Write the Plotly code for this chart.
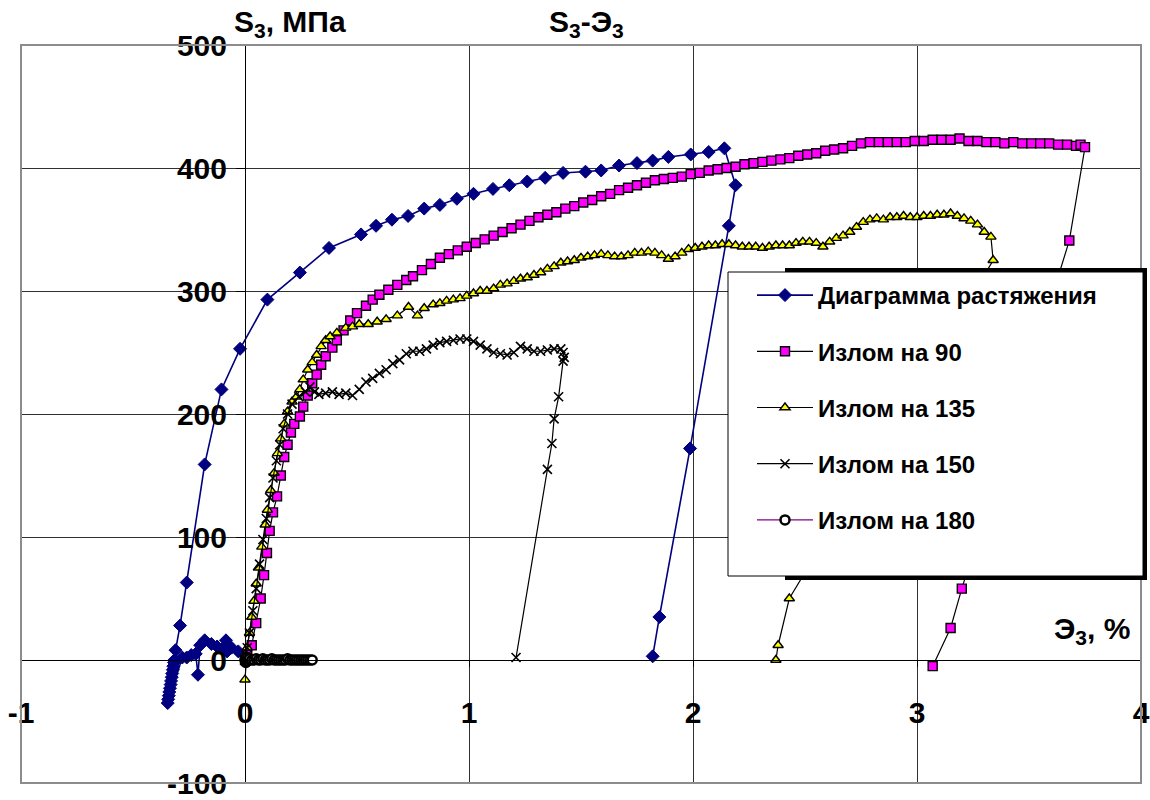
import plotly.graph_objects as go

# ---------------- data ----------------
# Диаграмма растяжения
tens_x = [-0.03, -0.06, -0.085, -0.08, -0.1, -0.125, -0.15, -0.18, -0.2, -0.21, -0.22, -0.24, -0.26, -0.28,
          -0.345, -0.343, -0.34, -0.338, -0.335, -0.332, -0.33, -0.327, -0.325, -0.322, -0.32, -0.317, -0.315,
          -0.31, -0.29, -0.26, -0.18, -0.105, -0.022, 0.1, 0.245, 0.375, 0.518, 0.585, 0.656, 0.728, 0.8, 0.87,
          0.946, 1.02, 1.107, 1.18, 1.26, 1.34, 1.42, 1.52, 1.59, 1.67, 1.75, 1.82, 1.89, 1.99, 2.07, 2.14,
          2.19, 2.16, 1.987, 1.85, 1.82]
tens_y = [7, 10, 16, 7, 9, 11, 13, 16, 12, -12, 5, 4, 2, 2,
          -35, -32, -29, -26, -23, -20, -17, -14, -11, -8, -5, -2, 0,
          8, 28, 63, 159, 220, 253, 293, 315, 335, 346, 353, 358, 361, 367, 370,
          375, 379, 383, 386, 389, 392, 396, 397, 398, 402, 404, 406, 409, 411, 413, 416,
          386, 353, 172, 35, 3]

# Излом на 90
k90_x = [0, 0.01, 0.03, 0.05, 0.07, 0.085, 0.098, 0.11, 0.125, 0.143, 0.16, 0.175, 0.19, 0.205, 0.22, 0.245,
         0.26, 0.28, 0.3, 0.32, 0.34, 0.36, 0.39, 0.41, 0.44, 0.47, 0.5, 0.54, 0.57, 0.6, 0.64, 0.68, 0.72,
         0.75, 0.79, 0.83, 0.87, 0.91, 0.95, 0.99, 1.03, 1.07, 1.11, 1.15, 1.19, 1.23, 1.27, 1.31, 1.35, 1.39,
         1.43, 1.47, 1.51, 1.55, 1.59, 1.63, 1.67, 1.71, 1.75, 1.79, 1.83, 1.87, 1.91, 1.95, 1.99, 2.03, 2.07,
         2.11, 2.15, 2.19, 2.23, 2.27, 2.31, 2.35, 2.39, 2.43, 2.47, 2.51, 2.55, 2.59, 2.63, 2.67, 2.71, 2.75,
         2.79, 2.83, 2.87, 2.91, 2.95, 2.99, 3.03, 3.07, 3.11, 3.15, 3.19, 3.23, 3.27, 3.31, 3.35, 3.39, 3.43,
         3.47, 3.51, 3.55, 3.59, 3.63, 3.67, 3.71, 3.73, 3.75, 3.68, 3.2, 3.15, 3.07]
k90_y = [0, 5, 12, 30, 50, 69, 87, 105, 120, 133, 150, 165, 175, 185, 192, 198,
         206, 215, 225, 232, 240, 247, 254, 260, 268, 276, 282, 288, 293, 297, 301, 305, 309,
         312, 317, 322, 327, 330, 333, 336, 339, 342, 345, 348, 351, 354, 357, 360, 362, 364,
         367, 369, 372, 374, 377, 379, 382, 384, 386, 388, 390, 391, 392, 393, 395, 396, 398,
         399, 400, 401, 403, 404, 405, 406, 407, 408, 410, 411, 412, 414, 415, 416, 418, 420,
         421, 421, 421, 421, 421, 422, 422, 423, 423, 423, 424, 422, 422, 421, 421, 420, 421,
         420, 420, 420, 420, 419, 419, 418, 419, 417, 341, 58, 26, -5]

# Излом на 135
k135_x = [0, 0.005, 0.01, 0.02, 0.03, 0.04, 0.05, 0.06, 0.075, 0.09, 0.1, 0.115, 0.13, 0.145, 0.16, 0.175,
          0.19, 0.21, 0.23, 0.245, 0.26, 0.28, 0.3, 0.32, 0.34, 0.36, 0.38, 0.41, 0.45, 0.48, 0.51, 0.55,
          0.59, 0.63, 0.68, 0.73, 0.77, 0.8, 0.84, 0.87, 0.9, 0.93, 0.96, 0.99, 1.02, 1.05, 1.08, 1.11,
          1.14, 1.17, 1.2, 1.23, 1.26, 1.29, 1.32, 1.35, 1.38, 1.41, 1.44, 1.47, 1.5, 1.53, 1.56, 1.59,
          1.62, 1.65, 1.68, 1.71, 1.74, 1.77, 1.8, 1.83, 1.86, 1.89, 1.92, 1.95, 1.98, 2.01, 2.04, 2.07,
          2.1, 2.13, 2.16, 2.19, 2.22, 2.25, 2.28, 2.31, 2.34, 2.37, 2.4, 2.43, 2.46, 2.49, 2.52, 2.55,
          2.58, 2.61, 2.64, 2.67, 2.7, 2.73, 2.76, 2.79, 2.82, 2.85, 2.88, 2.91, 2.94, 2.97, 3.0, 3.03,
          3.06, 3.09, 3.12, 3.15, 3.18, 3.21, 3.24, 3.27, 3.3, 3.33, 3.34, 2.43, 2.38, 2.37]
k135_y = [-16, 0, 10, 22, 35, 48, 62, 75, 92, 110, 122, 138, 152, 168, 180, 192,
          202, 210, 214, 220, 228, 236, 242, 248, 255, 260, 263, 266, 270, 271, 273, 273,
          275, 277, 280, 287, 280, 286, 289, 290, 292, 293, 294, 296, 298, 300, 300, 302,
          305, 306, 308, 310, 311, 313, 315, 318, 320, 323, 324, 325, 327, 328, 329, 330,
          329, 328, 328, 329, 331, 331, 332, 331, 329, 326, 328, 331, 334, 335, 336, 337,
          337, 338, 338, 337, 336, 336, 336, 335, 336, 337, 337, 337, 339, 340, 340, 339,
          336, 340, 343, 345, 348, 352, 356, 358, 359, 358, 360, 360, 361, 360, 360, 361,
          361, 362, 362, 363, 361, 359, 357, 354, 348, 344, 325, 50, 12, 0]

# Излом на 150
k150_x = [0, 0.01, 0.02, 0.035, 0.05, 0.065, 0.08, 0.095, 0.11, 0.125, 0.14, 0.155, 0.17, 0.19, 0.21,
          0.24, 0.27, 0.29, 0.31, 0.33, 0.36, 0.39, 0.42, 0.45, 0.48, 0.51, 0.54, 0.57, 0.6, 0.63, 0.66,
          0.69, 0.72, 0.75, 0.78, 0.81, 0.84, 0.87, 0.9, 0.93, 0.96, 0.99, 1.02, 1.05, 1.08, 1.11, 1.14,
          1.17, 1.2, 1.23, 1.26, 1.29, 1.32, 1.35, 1.38, 1.41, 1.42, 1.425, 1.42, 1.4, 1.38, 1.37, 1.35, 1.21]
k150_y = [0, 10, 22, 40, 58, 78, 98, 115, 132, 148, 162, 175, 188, 200, 208,
          214, 218, 222, 218, 216, 217, 218, 216, 217, 215, 220, 226, 229, 233, 236, 241,
          244, 249, 251, 251, 253, 256, 258, 259, 260, 261, 261, 259, 256, 253, 250, 249,
          248, 250, 255, 253, 251, 251, 252, 253, 253, 250, 246, 243, 214, 196, 176, 155, 2]

# Излом на 180
k180_x = [0, 0.002, 0.004, 0.006, 0.008, 0.01, 0.012, 0.015, 0.02, 0.03, 0.04, 0.05, 0.06, 0.07, 0.08,
          0.09, 0.1, 0.11, 0.12, 0.13, 0.14, 0.15, 0.16, 0.17, 0.18, 0.19, 0.2, 0.21, 0.22, 0.23, 0.24,
          0.25, 0.26, 0.27, 0.28, 0.29, 0.3]
k180_y = [0, 2, -2, 1, -1, 0, 2, 0, 1, 0, 0, 1, 0, 0, 1,
          0, 0, 0, 1, 0, 0, 0, 0, 0, 0, 1, 0, 0, 0, 0, 0,
          0, 0, 0, 0, 0, 0]

series_names = ["Диаграмма растяжения", "Излом на 90", "Излом на 135", "Излом на 150", "Излом на 180"]

x_ticks = [-1, 0, 1, 2, 3, 4]
x_labels = ["-1", "0", "1", "2", "3", "4"]
y_ticks = [-100, 0, 100, 200, 300, 400, 500]
y_labels = ["-100", "0", "100", "200", "300", "400", "500"]

# ---------------- figure ----------------
FONT = "Liberation Sans, Arial, sans-serif"
W, H = 1150, 800
ML, MR, MT, MB = 21, 9, 45, 17
PW, PH = W - ML - MR, H - MT - MB


def px_x(p):
    return (p - ML) / PW


def px_y(p):
    return (H - MB - p) / PH


fig = go.Figure()

fig.add_trace(go.Scatter(
    x=tens_x, y=tens_y, name=series_names[0], mode="lines+markers", legendgroup="a",
    line=dict(color="#000080", width=1.6),
    marker=dict(symbol="diamond", size=10, color="#000080", line=dict(color="#000080", width=1))))
fig.add_trace(go.Scatter(
    x=k90_x, y=k90_y, name=series_names[1], mode="lines+markers", legendgroup="b",
    line=dict(color="black", width=1.2),
    marker=dict(symbol="square", size=9, color="#FF00FF", line=dict(color="black", width=1.4))))
fig.add_trace(go.Scatter(
    x=k135_x, y=k135_y, name=series_names[2], mode="lines+markers", legendgroup="c",
    line=dict(color="black", width=1.2),
    marker=dict(symbol="triangle-up", size=9, color="#FFFF00", line=dict(color="black", width=1.4))))
fig.add_trace(go.Scatter(
    x=k150_x, y=k150_y, name=series_names[3], mode="lines+markers", legendgroup="d",
    line=dict(color="black", width=1.2),
    marker=dict(symbol="x-thin", size=9, color="black", line=dict(color="black", width=1.6))))
fig.add_trace(go.Scatter(
    x=k180_x, y=k180_y, name=series_names[4], mode="lines+markers", legendgroup="e",
    line=dict(color="#800080", width=1.2),
    marker=dict(symbol="circle", size=9, color="white", line=dict(color="black", width=2.5))))

axis_font = dict(family=FONT, size=30, color="black", weight="bold")

fig.update_layout(
    width=W, height=H,
    margin=dict(l=ML, r=MR, t=MT, b=MB, pad=0, autoexpand=False),
    paper_bgcolor="white", plot_bgcolor="white",
    showlegend=True,
    legend=dict(
        x=px_x(752), y=px_y(273), xanchor="left", yanchor="top",
        bgcolor="rgba(0,0,0,0)", borderwidth=0,
        font=dict(family=FONT, size=24, color="black", weight="bold"),
        tracegroupgap=22, itemwidth=56,
    ),
    xaxis=dict(
        range=[-1, 4], tickmode="array", tickvals=x_ticks, ticktext=x_labels,
        showgrid=True, gridcolor="#303030", gridwidth=1,
        zeroline=False, showline=True, linecolor="black", linewidth=1,
        anchor="free", position=px_y(660), automargin=False,
        ticks="outside", ticklen=6, tickcolor="black", tickfont=axis_font,
        ticklabelstandoff=20,
    ),
    yaxis=dict(
        range=[-100, 500], tickmode="array", tickvals=y_ticks, ticktext=y_labels,
        showgrid=True, gridcolor="#303030", gridwidth=1,
        zeroline=False, showline=True, linecolor="black", linewidth=1,
        anchor="free", position=px_x(245), automargin=False,
        ticks="outside", ticklen=9, tickcolor="black", tickfont=axis_font,
        ticklabelstandoff=3,
    ),
)

shapes = [
    # plot area border
    dict(type="rect", xref="paper", yref="paper", x0=0, y0=0, x1=1, y1=1,
         line=dict(color="#8c8c8c", width=2), fillcolor="rgba(0,0,0,0)", layer="above"),
    # legend shadow
    dict(type="rect", xref="paper", yref="paper", x0=px_x(785), y0=px_y(580), x1=px_x(1147), y1=px_y(268),
         line=dict(width=0), fillcolor="black", layer="above"),
    # legend box
    dict(type="rect", xref="paper", yref="paper", x0=px_x(728), y0=px_y(576), x1=px_x(1143), y1=px_y(272),
         line=dict(color="black", width=1), fillcolor="white", layer="above"),
]
fig.update_layout(shapes=shapes)

ann_font = dict(family=FONT, size=30, color="black", weight="bold")
fig.add_annotation(text="S<sub>3</sub>, МПа", xref="paper", yref="paper", x=px_x(232), y=px_y(24),
                   xanchor="left", yanchor="middle", showarrow=False, font=ann_font)
fig.add_annotation(text="S<sub>3</sub>-Э<sub>3</sub>", xref="paper", yref="paper", x=px_x(547), y=px_y(24),
                   xanchor="left", yanchor="middle", showarrow=False, font=ann_font)
fig.add_annotation(text="Э<sub>3</sub>, %", xref="paper", yref="paper", x=px_x(1052), y=px_y(630),
                   xanchor="left", yanchor="middle", showarrow=False, font=ann_font)

fig.write_html("out.html")
